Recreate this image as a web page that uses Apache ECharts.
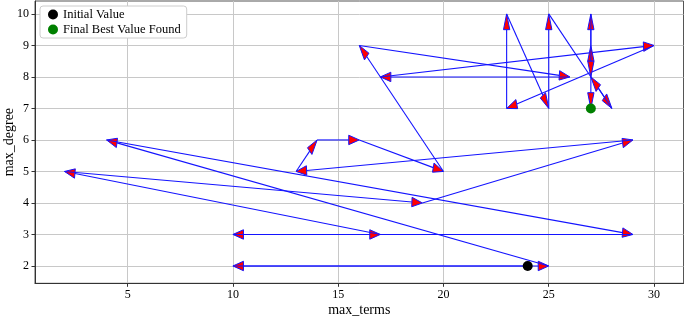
<!DOCTYPE html>
<html>
<head>
<meta charset="utf-8">
<script src="https://cdn.jsdelivr.net/npm/echarts@6/dist/echarts.min.js"></script>
<style>html,body{margin:0;padding:0;background:#fff}#c{width:685px;height:318px}</style>
</head>
<body>
<div id="c"></div>
<script>
// Search path (visited points, in order)
const pathTerms  = [24, 10, 25, 4, 29, 10, 17, 2, 19, 29, 13, 14, 16, 20, 16, 26, 17, 30, 23, 23, 25, 25, 28, 27, 27, 27, 27, 27];
const pathDegree = [ 2,  2,  2, 6,  3,  3,  3, 5,  4,  6,  5,  6,  6,  5,  9,  8,  8,  9,  7, 10,  7, 10,  7,  8,  9, 10,  8,  7];
const initialValue = [24, 2];
const finalBest = [27, 7];
const xTicks = [5, 10, 15, 20, 25, 30];
const yTicks = [2, 3, 4, 5, 6, 7, 8, 9, 10];

const arrows = [];
for (let i = 0; i < pathTerms.length - 1; i++) {
  arrows.push([pathTerms[i], pathDegree[i], pathTerms[i + 1], pathDegree[i + 1]]);
}

const FONT = "'Liberation Serif', 'DejaVu Serif', serif";
const chart = echarts.init(document.getElementById('c'), null, {renderer: 'canvas'});

function renderArrow(params, api) {
  const x0 = api.value(0), y0 = api.value(1), x1 = api.value(2), y1 = api.value(3);
  const dx = x1 - x0, dy = y1 - y0, L = Math.hypot(dx, dy);
  const ux = dx / L, uy = dy / L;
  const HL = 0.5, HW = 0.15;
  const bx = x1 - ux * HL, by = y1 - uy * HL;
  const p0 = api.coord([x0, y0]), pb = api.coord([bx, by]), pt = api.coord([x1, y1]);
  const pl = api.coord([bx - uy * HW, by + ux * HW]);
  const pr = api.coord([bx + uy * HW, by - ux * HW]);
  return {
    type: 'group',
    children: [
      {type: 'line', shape: {x1: p0[0], y1: p0[1], x2: pb[0], y2: pb[1]},
       style: {stroke: '#1414ff', lineWidth: 1.1}},
      {type: 'polygon', shape: {points: [pt, pl, pr]},
       style: {fill: '#ff0000', stroke: '#1414ff', lineWidth: 1}}
    ]
  };
}

chart.setOption({
  animation: false,
  grid: {left: 35, right: 1.5, top: 1, bottom: 34.7, containLabel: false, outerBoundsMode: 'none',
         show: true, borderColor: '#555', borderWidth: 1},
  legend: {
    data: ['Initial Value', 'Final Best Value Found'],
    orient: 'vertical', left: 40, top: 6,
    backgroundColor: '#fff', borderColor: '#cccccc', borderWidth: 1, borderRadius: 3,
    padding: [2, 6, 2, 8], itemGap: 2, itemWidth: 10, itemHeight: 10,
    textStyle: {fontFamily: FONT, fontSize: 12.5, color: '#000'}
  },
  xAxis: {
    type: 'value', min: 0.6, max: 31.4,
    name: 'max_terms', nameLocation: 'middle', nameGap: 20, nameMoveOverlap: false,
    nameTextStyle: {fontFamily: FONT, fontSize: 14, color: '#000'},
    axisLine: {onZero: false, lineStyle: {color: '#333'}},
    axisTick: {show: true, length: 3.5, customValues: xTicks, lineStyle: {color: '#333'}},
    axisLabel: {customValues: xTicks, fontFamily: FONT, fontSize: 12, color: '#000', margin: 6},
    splitLine: {show: true, lineStyle: {color: '#c8c8c8', width: 1}}
  },
  yAxis: {
    type: 'value', min: 1.45, max: 10.41,
    name: 'max_degree', nameLocation: 'middle', nameGap: 19, nameRotate: 90, nameMoveOverlap: false,
    nameTextStyle: {fontFamily: FONT, fontSize: 14, color: '#000'},
    axisLine: {show: true, onZero: false, lineStyle: {color: '#333'}},
    axisTick: {show: true, length: 3.5, customValues: yTicks, lineStyle: {color: '#333'}},
    axisLabel: {customValues: yTicks, fontFamily: FONT, fontSize: 12, color: '#000', margin: 6},
    splitLine: {show: true, lineStyle: {color: '#c8c8c8', width: 1}}
  },
  series: [
    {
      type: 'custom', renderItem: renderArrow, data: arrows,
      encode: {x: [0, 2], y: [1, 3]}, clip: false, silent: true, z: 2
    },
    {
      name: 'Initial Value', type: 'scatter', data: [initialValue],
      symbol: 'circle', symbolSize: 10, itemStyle: {color: '#000', opacity: 1}, z: 5
    },
    {
      name: 'Final Best Value Found', type: 'scatter', data: [finalBest],
      symbol: 'circle', symbolSize: 10, itemStyle: {color: '#008000', opacity: 1}, z: 5
    }
  ]
});
</script>
</body>
</html>
